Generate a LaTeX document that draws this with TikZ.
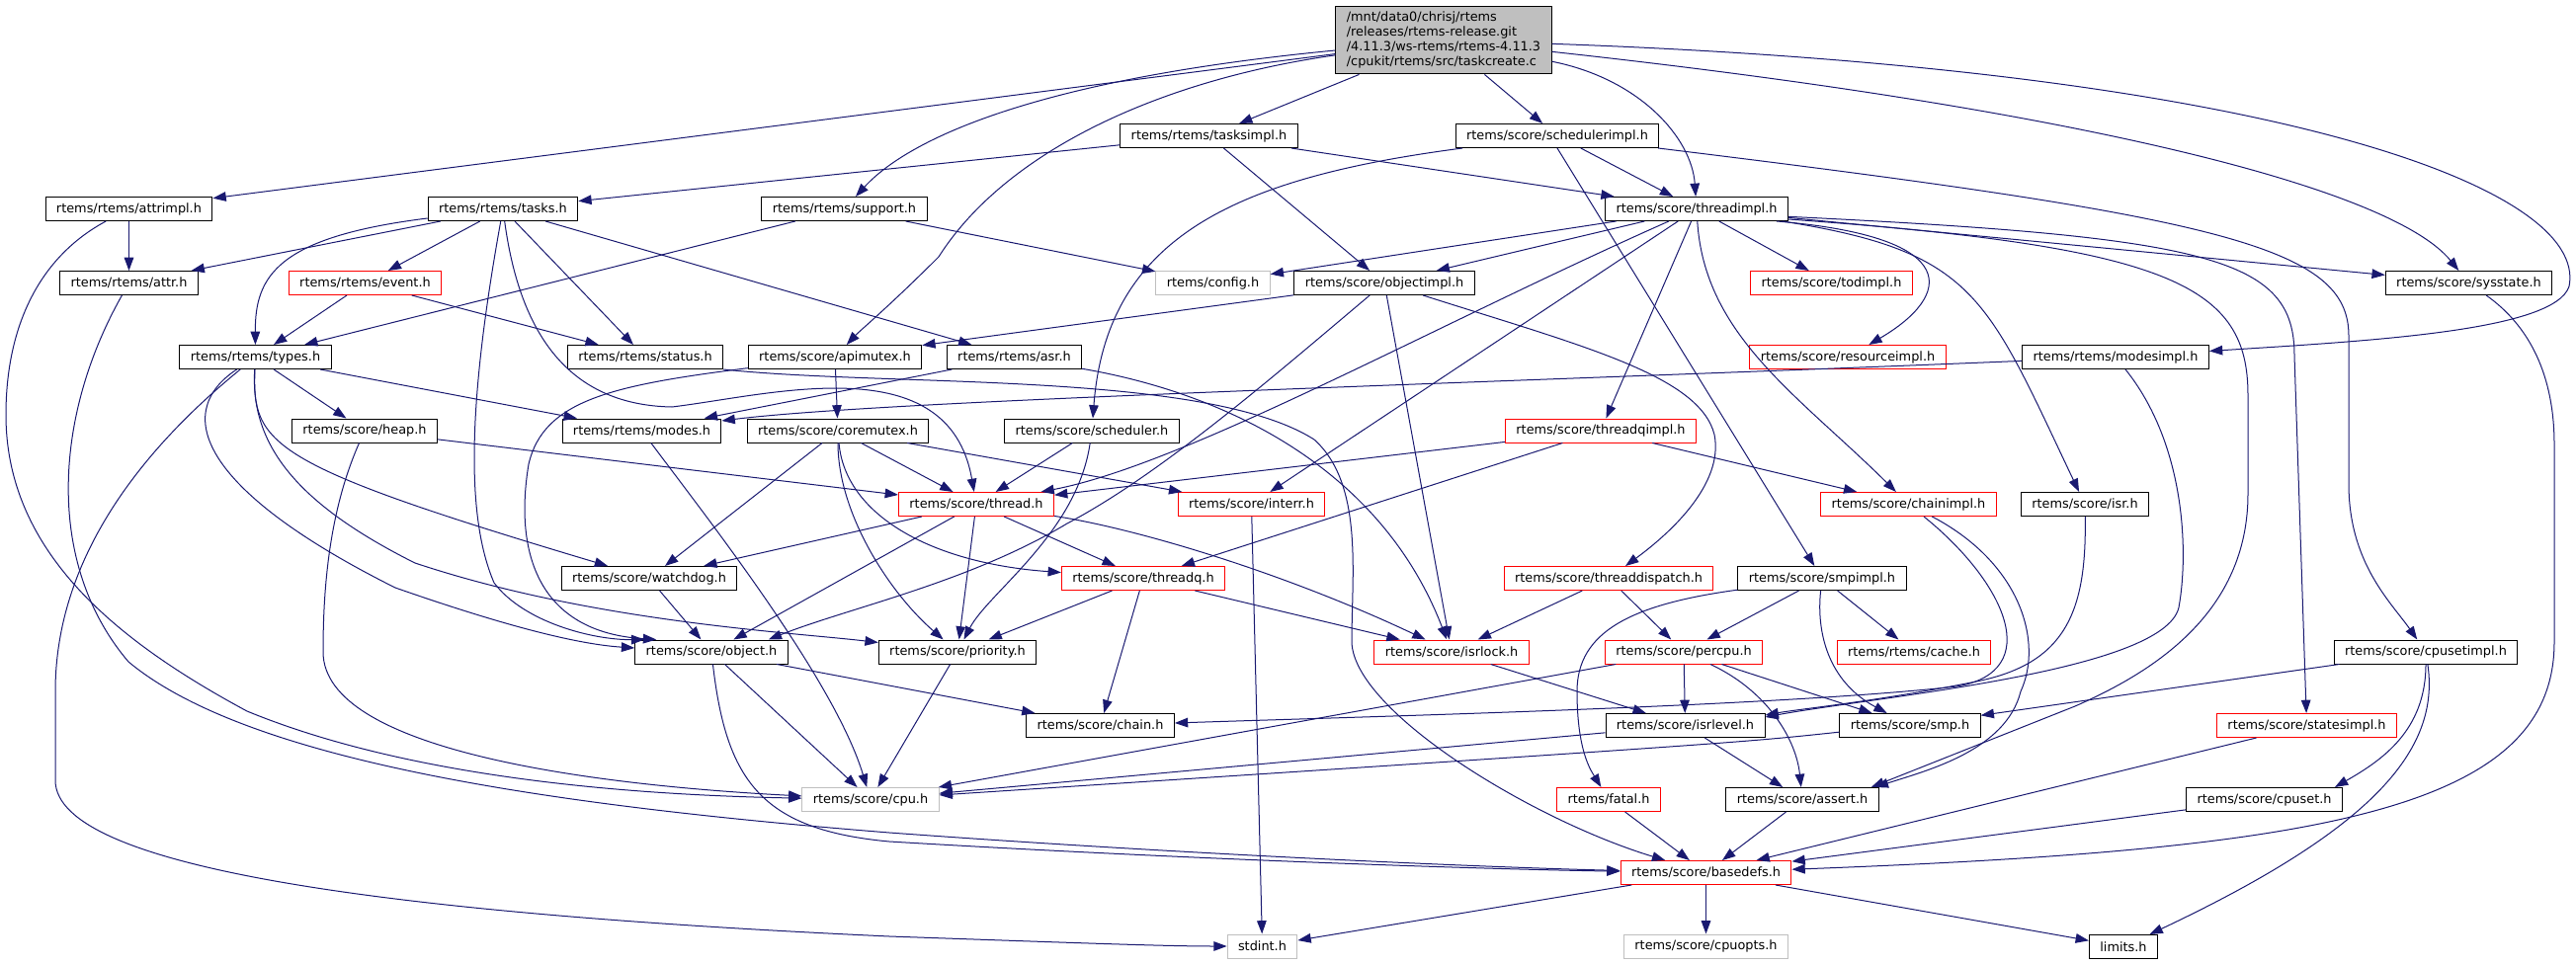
\documentclass[tikz,border=0pt]{standalone}
\usepackage{fontspec}
\newfontfamily\dotfont{DejaVu Sans}
\usetikzlibrary{arrows.meta}
\definecolor{linkblue}{HTML}{191970}
\definecolor{redline}{HTML}{FF0000}
\definecolor{greyline}{HTML}{BFBFBF}

\begin{document}
\begin{tikzpicture}[
        x = 0.75pt, y = -0.75pt,
        >= { Triangle[ length = 10pt, width = 7.2pt ] },
        file/.style = { draw = black, fill = white, line width = 0.75pt, font = \dotfont\fontsize{9.65}{11.1}\selectfont, inner xsep = 8.2pt, inner ysep = 0pt, minimum height = 18pt },
        redfile/.style = { file, draw = redline },
        sysfile/.style = { file, draw = greyline },
        topfile/.style = { file, fill = greyline, align = left, inner ysep = 4.5pt },
        dep/.style = { ->, draw = linkblue, line width = 0.75pt }
    ]
        \useasboundingbox ( 0, 0 ) rectangle ( 2607, 977 );

        % файлы
        \node [ topfile ] (taskcreate) at ( 1461, 40.5 ) {/mnt/data0/chrisj/rtems\\/releases/rtems-release.git\\/4.11.3/ws-rtems/rtems-4.11.3\\/cpukit/rtems/src/taskcreate.c};
        \node [ file ] (tasksimpl) at ( 1223.5, 137.5 ) {rtems/rtems/tasksimpl.h};
        \node [ file ] (schedulerimpl) at ( 1576, 137.5 ) {rtems/score/schedulerimpl.h};
        \node [ file ] (attrimpl) at ( 130.5, 211.5 ) {rtems/rtems/attrimpl.h};
        \node [ file ] (tasks) at ( 509, 211.5 ) {rtems/rtems/tasks.h};
        \node [ file ] (support) at ( 854.5, 211.5 ) {rtems/rtems/support.h};
        \node [ file ] (threadimpl) at ( 1717, 211.5 ) {rtems/score/threadimpl.h};
        \node [ file ] (attr) at ( 130.5, 286.5 ) {rtems/rtems/attr.h};
        \node [ redfile ] (event) at ( 369.5, 286.5 ) {rtems/rtems/event.h};
        \node [ sysfile ] (config) at ( 1227.5, 286.5 ) {rtems/config.h};
        \node [ file ] (objectimpl) at ( 1401, 286.5 ) {rtems/score/objectimpl.h};
        \node [ redfile ] (todimpl) at ( 1853.5, 286.5 ) {rtems/score/todimpl.h};
        \node [ file ] (sysstate) at ( 2498.5, 286.5 ) {rtems/score/sysstate.h};
        \node [ file ] (types) at ( 258.5, 361.5 ) {rtems/rtems/types.h};
        \node [ file ] (status) at ( 653, 361.5 ) {rtems/rtems/status.h};
        \node [ file ] (apimutex) at ( 845, 361.5 ) {rtems/score/apimutex.h};
        \node [ file ] (asr) at ( 1026.5, 361.5 ) {rtems/rtems/asr.h};
        \node [ redfile ] (resourceimpl) at ( 1870, 361.5 ) {rtems/score/resourceimpl.h};
        \node [ file ] (modesimpl) at ( 2141, 361.5 ) {rtems/rtems/modesimpl.h};
        \node [ file ] (heap) at ( 369, 436 ) {rtems/score/heap.h};
        \node [ file ] (modes) at ( 649.5, 436 ) {rtems/rtems/modes.h};
        \node [ file ] (coremutex) at ( 848, 436 ) {rtems/score/coremutex.h};
        \node [ file ] (scheduler) at ( 1105, 436 ) {rtems/score/scheduler.h};
        \node [ redfile ] (threadqimpl) at ( 1620, 436 ) {rtems/score/threadqimpl.h};
        \node [ redfile ] (thread) at ( 988, 510.5 ) {rtems/score/thread.h};
        \node [ redfile ] (interr) at ( 1266.5, 510.5 ) {rtems/score/interr.h};
        \node [ redfile ] (chainimpl) at ( 1931.5, 510.5 ) {rtems/score/chainimpl.h};
        \node [ file ] (isr) at ( 2110, 510.5 ) {rtems/score/isr.h};
        \node [ file ] (watchdog) at ( 657, 585.5 ) {rtems/score/watchdog.h};
        \node [ redfile ] (threadq) at ( 1157, 585.5 ) {rtems/score/threadq.h};
        \node [ redfile ] (threaddispatch) at ( 1628, 585.5 ) {rtems/score/threaddispatch.h};
        \node [ file ] (smpimpl) at ( 1844, 585.5 ) {rtems/score/smpimpl.h};
        \node [ file ] (object) at ( 720, 660 ) {rtems/score/object.h};
        \node [ file ] (priority) at ( 969, 660 ) {rtems/score/priority.h};
        \node [ redfile ] (isrlock) at ( 1469, 660 ) {rtems/score/isrlock.h};
        \node [ redfile ] (percpu) at ( 1704, 660 ) {rtems/score/percpu.h};
        \node [ redfile ] (cache) at ( 1937, 660 ) {rtems/rtems/cache.h};
        \node [ file ] (cpusetimpl) at ( 2455, 660 ) {rtems/score/cpusetimpl.h};
        \node [ file ] (chain) at ( 1113.5, 734.5 ) {rtems/score/chain.h};
        \node [ file ] (isrlevel) at ( 1705.5, 734.5 ) {rtems/score/isrlevel.h};
        \node [ file ] (smp) at ( 1933, 734.5 ) {rtems/score/smp.h};
        \node [ redfile ] (statesimpl) at ( 2334.5, 734.5 ) {rtems/score/statesimpl.h};
        \node [ sysfile ] (cpu) at ( 881, 809.5 ) {rtems/score/cpu.h};
        \node [ redfile ] (fatal) at ( 1628, 809.5 ) {rtems/fatal.h};
        \node [ file ] (assert) at ( 1824, 809.5 ) {rtems/score/assert.h};
        \node [ file ] (cpuset) at ( 2291.5, 809.5 ) {rtems/score/cpuset.h};
        \node [ redfile ] (basedefs) at ( 1726.5, 883.5 ) {rtems/score/basedefs.h};
        \node [ sysfile ] (stdint) at ( 1277.5, 958 ) {stdint.h};
        \node [ sysfile ] (cpuopts) at ( 1726.5, 958 ) {rtems/score/cpuopts.h};
        \node [ file ] (limits) at ( 2149, 958.5 ) {limits.h};

        % taskcreate.c
        \draw [ dep ] (taskcreate) -- (attrimpl);
        \draw [ dep ] (taskcreate) .. controls ( 1050, 80 ) and ( 920, 140 ) .. (support);
        \draw [ dep ] (taskcreate) .. controls ( 1180, 80 ) and ( 1020, 150 ) .. ( 950, 260 ) .. controls ( 900, 310 ) and ( 870, 335 ) .. (apimutex);
        \draw [ dep ] (taskcreate) -- (tasksimpl);
        \draw [ dep ] (taskcreate) -- (schedulerimpl);
        \draw [ dep ] (taskcreate) .. controls ( 1660, 80 ) and ( 1712, 140 ) .. (threadimpl);
        \draw [ dep ] (taskcreate) .. controls ( 2100, 110 ) and ( 2420, 190 ) .. (sysstate);
        \draw [ dep ] (taskcreate) .. controls ( 2300, 70 ) and ( 2620, 190 ) .. ( 2600, 290 ) .. controls ( 2585, 335 ) and ( 2400, 345 ) .. (modesimpl);

        % tasksimpl.h
        \draw [ dep ] (tasksimpl) -- (tasks);
        \draw [ dep ] (tasksimpl) -- (threadimpl);
        \draw [ dep ] (tasksimpl) -- (objectimpl);

        % schedulerimpl.h
        \draw [ dep ] (schedulerimpl) -- (threadimpl);
        \draw [ dep ] (schedulerimpl) .. controls ( 1250, 180 ) and ( 1120, 240 ) .. (scheduler);
        \draw [ dep ] (schedulerimpl.south) -- (smpimpl);
        \draw [ dep ] (schedulerimpl) .. controls ( 2250, 220 ) and ( 2377, 250 ) .. ( 2377, 340 ) -- ( 2377, 490 ) .. controls ( 2377, 570 ) and ( 2420, 610 ) .. (cpusetimpl);

        % attrimpl.h
        \draw [ dep ] (attrimpl) -- (attr);
        \draw [ dep ] (attrimpl) .. controls ( 40, 260 ) and ( 6, 330 ) .. ( 6, 420 ) .. controls ( 6, 560 ) and ( 120, 650 ) .. ( 250, 720 ) .. controls ( 420, 790 ) and ( 650, 805 ) .. (cpu);

        % tasks.h
        \draw [ dep ] (tasks) -- (attr);
        \draw [ dep ] (tasks) -- (event);
        \draw [ dep ] (tasks) .. controls ( 280, 240 ) and ( 258, 280 ) .. (types);
        \draw [ dep ] (tasks) -- (status);
        \draw [ dep ] (tasks) -- (asr);
        \draw [ dep ] (tasks) .. controls ( 475, 400 ) and ( 470, 520 ) .. ( 500, 590 ) .. controls ( 530, 630 ) and ( 600, 648 ) .. ([xshift=7.5pt]object.north west);
        \draw [ dep ] (tasks) .. controls ( 525, 330 ) and ( 570, 410 ) .. ( 680, 412 ) .. controls ( 780, 400 ) and ( 960, 350 ) .. (thread);

        % support.h
        \draw [ dep ] (support) -- (types);
        \draw [ dep ] (support) -- (config);

        % threadimpl.h
        \draw [ dep ] (threadimpl) -- (config);
        \draw [ dep ] (threadimpl) -- (objectimpl);
        \draw [ dep ] (threadimpl) .. controls ( 1450, 330 ) and ( 1200, 470 ) .. (thread);
        \draw [ dep ] (threadimpl) -- (interr);
        \draw [ dep ] (threadimpl) -- (threadqimpl);
        \draw [ dep ] (threadimpl) .. controls ( 1725, 340 ) and ( 1820, 400 ) .. (chainimpl);
        \draw [ dep ] (threadimpl) -- (todimpl);
        \draw [ dep ] ([xshift=-9pt]threadimpl.south east) .. controls ( 1990, 240 ) and ( 1975, 300 ) .. (resourceimpl);
        \draw [ dep ] ([xshift=-4.5pt]threadimpl.south east) .. controls ( 2000, 255 ) and ( 2010, 300 ) .. (isr);
        \draw [ dep ] ([yshift=1.5pt]threadimpl.south east) .. controls ( 2200, 250 ) and ( 2275, 290 ) .. ( 2275, 400 ) -- ( 2275, 500 ) .. controls ( 2275, 620 ) and ( 2180, 680 ) .. ( 2100, 715 ) -- ([xshift=-6pt]assert.north east);
        \draw [ dep ] ([yshift=3.5pt]threadimpl.south east) .. controls ( 2240, 240 ) and ( 2322, 262 ) .. ( 2322, 360 ) -- (statesimpl);
        \draw [ dep ] (threadimpl) -- (sysstate);

        % event.h, attr.h
        \draw [ dep ] (event) -- (types);
        \draw [ dep ] (event) -- (status);
        \draw [ dep ] (attr) .. controls ( 55, 420 ) and ( 45, 570 ) .. ( 130, 670 ) .. controls ( 250, 770 ) and ( 550, 815 ) .. ( 900, 843 ) .. controls ( 1200, 865 ) and ( 1500, 878 ) .. (basedefs);

        % types.h
        \draw [ dep ] (types) -- (heap);
        \draw [ dep ] (types) -- (modes);
        \draw [ dep ] (types) .. controls ( 255, 450 ) and ( 270, 470 ) .. (watchdog);
        \draw [ dep ] (types) .. controls ( 170, 420 ) and ( 210, 500 ) .. ( 400, 595 ) .. controls ( 500, 630 ) and ( 580, 652 ) .. ([yshift=3pt]object.west);
        \draw [ dep ] (types) .. controls ( 253, 450 ) and ( 300, 510 ) .. ( 420, 570 ) .. controls ( 600, 630 ) and ( 800, 640 ) .. (priority);
        \draw [ dep ] (types) .. controls ( 150, 450 ) and ( 56, 560 ) .. ( 56, 700 ) -- ( 56, 790 ) .. controls ( 56, 880 ) and ( 400, 925 ) .. ( 900, 948 ) .. controls ( 1100, 955 ) and ( 1180, 958 ) .. (stdint);

        % heap.h, modes.h, status.h
        \draw [ dep ] (heap) -- (thread);
        \draw [ dep ] (heap) .. controls ( 332, 520 ) and ( 327, 600 ) .. ( 327, 660 ) .. controls ( 327, 760 ) and ( 600, 795 ) .. (cpu);
        \draw [ dep ] (modes) .. controls ( 720, 530 ) and ( 845, 690 ) .. (cpu);
        \draw [ dep ] (status.south east) .. controls ( 900, 392 ) and ( 1220, 375 ) .. ( 1330, 445 ) .. controls ( 1380, 490 ) and ( 1368, 580 ) .. ( 1368, 650 ) .. controls ( 1370, 720 ) and ( 1550, 830 ) .. (basedefs);

        % apimutex.h, asr.h
        \draw [ dep ] (apimutex) -- (coremutex);
        \draw [ dep ] (apimutex) .. controls ( 620, 390 ) and ( 550, 405 ) .. ( 535, 470 ) .. controls ( 520, 560 ) and ( 545, 640 ) .. ([xshift=16.5pt]object.north west);
        \draw [ dep ] (asr) -- (modes);
        \draw [ dep ] (asr) .. controls ( 1250, 400 ) and ( 1400, 480 ) .. (isrlock);

        % modesimpl.h
        \draw [ dep ] (modesimpl) .. controls ( 1500, 388 ) and ( 900, 405 ) .. (modes);
        \draw [ dep ] (modesimpl) .. controls ( 2212, 450 ) and ( 2215, 560 ) .. ( 2205, 615 ) .. controls ( 2190, 680 ) and ( 1900, 705 ) .. ([yshift=-3pt]isrlevel.north east);

        % coremutex.h, scheduler.h
        \draw [ dep ] (coremutex) -- (thread);
        \draw [ dep ] (coremutex) -- (interr);
        \draw [ dep ] (coremutex) .. controls ( 855, 520 ) and ( 940, 570 ) .. (threadq);
        \draw [ dep ] (coremutex) .. controls ( 848, 520 ) and ( 900, 600 ) .. (priority);
        \draw [ dep ] (coremutex) -- (watchdog);
        \draw [ dep ] (scheduler) -- (thread);
        \draw [ dep ] (scheduler) .. controls ( 1090, 540 ) and ( 1000, 600 ) .. (priority);

        % threadqimpl.h
        \draw [ dep ] (threadqimpl) -- (thread);
        \draw [ dep ] (threadqimpl) -- (threadq);
        \draw [ dep ] (threadqimpl) -- (chainimpl);

        % objectimpl.h
        \draw [ dep ] (objectimpl) -- (apimutex);
        \draw [ dep ] (objectimpl) .. controls ( 1290, 380 ) and ( 1175, 480 ) .. ( 1080, 530 ) .. controls ( 980, 590 ) and ( 860, 615 ) .. ([xshift=-15pt]object.north east);
        \draw [ dep ] (objectimpl) -- (isrlock);
        \draw [ dep ] (objectimpl) .. controls ( 1600, 350 ) and ( 1720, 380 ) .. ( 1735, 440 ) .. controls ( 1745, 490 ) and ( 1690, 540 ) .. (threaddispatch);

        % thread.h, interr.h
        \draw [ dep ] (thread) -- (watchdog);
        \draw [ dep ] (thread) -- (object);
        \draw [ dep ] (thread) -- (priority);
        \draw [ dep ] (thread) -- (threadq);
        \draw [ dep ] (thread) .. controls ( 1150, 535 ) and ( 1300, 580 ) .. (isrlock);
        \draw [ dep ] (interr) -- (stdint);

        % chainimpl.h, isr.h
        \draw [ dep ] (chainimpl) .. controls ( 2030, 590 ) and ( 2070, 680 ) .. ( 1980, 695 ) .. controls ( 1800, 715 ) and ( 1400, 725 ) .. (chain);
        \draw [ dep ] (chainimpl) .. controls ( 2045, 570 ) and ( 2068, 650 ) .. ( 2045, 700 ) .. controls ( 2030, 760 ) and ( 1950, 780 ) .. ([xshift=-3pt]assert.north east);
        \draw [ dep ] (isr) .. controls ( 2112, 620 ) and ( 2090, 672 ) .. ( 2000, 690 ) .. controls ( 1900, 710 ) and ( 1820, 718 ) .. ([yshift=-1.5pt]isrlevel.north east);

        % watchdog.h, threadq.h, threaddispatch.h
        \draw [ dep ] (watchdog) -- (object);
        \draw [ dep ] (threadq) -- (priority);
        \draw [ dep ] (threadq) -- (chain);
        \draw [ dep ] (threadq) -- (isrlock);
        \draw [ dep ] (threaddispatch) -- (isrlock);
        \draw [ dep ] (threaddispatch) -- (percpu);

        % smpimpl.h
        \draw [ dep ] (smpimpl) -- (percpu);
        \draw [ dep ] (smpimpl) .. controls ( 1650, 612 ) and ( 1596, 640 ) .. ( 1596, 700 ) .. controls ( 1596, 760 ) and ( 1610, 780 ) .. (fatal);
        \draw [ dep ] (smpimpl) -- (cache);
        \draw [ dep ] (smpimpl) .. controls ( 1838, 640 ) and ( 1850, 690 ) .. (smp);

        % object.h, priority.h, isrlock.h
        \draw [ dep ] (object) -- (cpu);
        \draw [ dep ] (object) -- (chain);
        \draw [ dep ] (object) .. controls ( 735, 790 ) and ( 770, 840 ) .. ( 900, 852 ) .. controls ( 1200, 870 ) and ( 1500, 880 ) .. (basedefs);
        \draw [ dep ] (priority) -- (cpu);
        \draw [ dep ] (isrlock) -- (isrlevel);

        % percpu.h
        \draw [ dep ] (percpu) -- (cpu);
        \draw [ dep ] (percpu) -- (isrlevel);
        \draw [ dep ] (percpu) -- (smp);
        \draw [ dep ] (percpu) .. controls ( 1790, 700 ) and ( 1818, 750 ) .. (assert);

        % isrlevel.h, smp.h
        \draw [ dep ] (isrlevel) -- (cpu);
        \draw [ dep ] (isrlevel) -- (assert);
        \draw [ dep ] ([yshift=-5pt]smp.west) .. controls ( 1760, 752 ) .. (cpu);

        % cpusetimpl.h
        \draw [ dep ] (cpusetimpl) -- (smp);
        \draw [ dep ] (cpusetimpl) .. controls ( 2455, 740 ) and ( 2410, 770 ) .. ([xshift=-6pt]cpuset.north east);
        \draw [ dep ] (cpusetimpl) .. controls ( 2470, 760 ) and ( 2400, 840 ) .. (limits);

        % к basedefs.h
        \draw [ dep ] (statesimpl) -- (basedefs);
        \draw [ dep ] (cpuset) -- (basedefs);
        \draw [ dep ] (assert) -- (basedefs);
        \draw [ dep ] (fatal) -- (basedefs);
        \draw [ dep ] (sysstate) .. controls ( 2560, 330 ) and ( 2585, 380 ) .. ( 2585, 450 ) -- ( 2585, 650 ) .. controls ( 2585, 820 ) and ( 2350, 860 ) .. (basedefs);

        % basedefs.h
        \draw [ dep ] (basedefs) -- (stdint);
        \draw [ dep ] (basedefs) -- (cpuopts);
        \draw [ dep ] (basedefs) -- (limits);
    \end{tikzpicture}
\end{document}
